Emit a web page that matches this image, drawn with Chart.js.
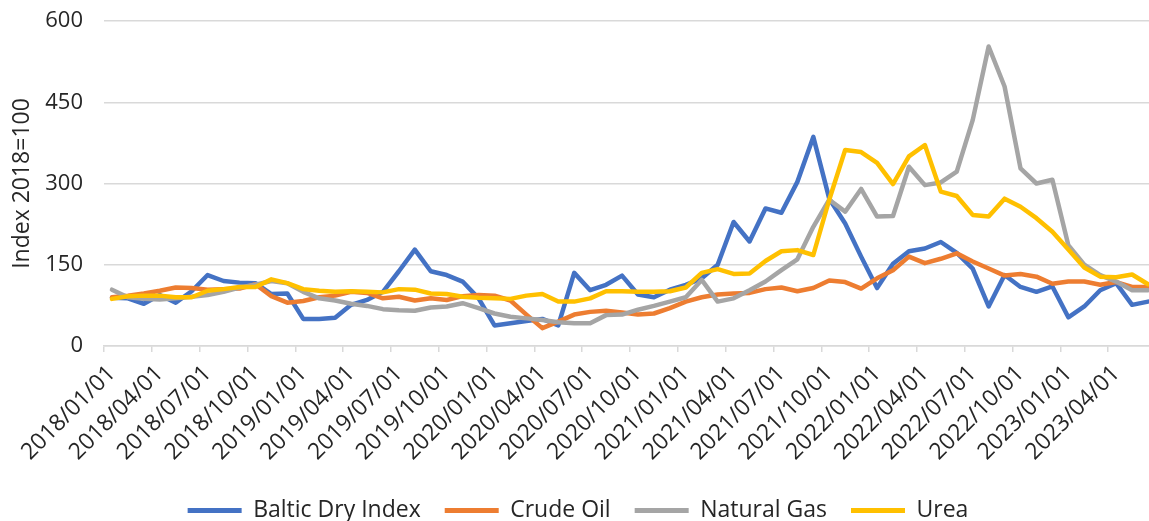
<!DOCTYPE html>
<html>
<head>
<meta charset="utf-8">
<script src="https://cdn.jsdelivr.net/npm/chart.js@4.4.1/dist/chart.umd.min.js"></script>
<style>
  html, body { margin: 0; padding: 0; background: #fff; overflow: hidden; }
  #wrap { width: 1156px; height: 521px; }
</style>
</head>
<body>
<div id="wrap"><canvas id="chart"></canvas></div>
<script>
// monthly categories, 2018/01 .. 2023/06
const months = [];
for (let y = 2018; y <= 2023; y++) {
  for (let m = 1; m <= 12; m++) {
    if (months.length < 66) months.push(y + '/' + String(m).padStart(2, '0') + '/01');
  }
}

const balticDry = [89, 88, 78, 94, 80, 101, 131, 120, 117, 116, 96, 97,
  50, 50, 52, 76, 85, 100, 138, 178, 138, 131, 119, 88,
  38, 42, 46, 50, 38, 135, 103, 113, 130, 95, 90, 104,
  113, 125, 150, 229, 193, 254, 246, 303, 386, 272, 226, 165,
  107, 152, 175, 180, 192, 172, 143, 73, 131, 109, 100, 110,
  53, 73, 103, 116, 76, 82];

const crudeOil = [90, 93, 97, 102, 108, 107, 104, 105, 106, 114, 92, 80,
  83, 90, 93, 100, 98, 88, 91, 84, 88, 85, 92, 94,
  93, 84, 58, 33, 45, 58, 63, 65, 62, 58, 60, 70,
  82, 90, 95, 97, 98, 105, 108, 101, 107, 121, 118, 106,
  125, 140, 165, 153, 161, 171, 156, 143, 130, 133, 128, 115,
  119, 119, 113, 118, 109, 109];

const naturalGas = [104, 90, 87, 86, 88, 91, 94, 100, 108, 113, 120, 116,
  100, 88, 84, 78, 74, 68, 66, 65, 71, 73, 79, 70,
  60, 54, 51, 48, 44, 42, 42, 57, 58, 67, 74, 82,
  90, 122, 82, 88, 103, 119, 140, 160, 220, 270, 248, 290,
  239, 240, 331, 297, 302, 322, 417, 553, 479, 328, 300, 307,
  186, 150, 131, 119, 103, 103];

const urea = [87, 92, 93, 93, 90, 90, 102, 105, 109, 109, 123, 116,
  105, 102, 100, 101, 100, 99, 105, 104, 97, 96, 91, 89,
  88, 87, 93, 96, 82, 82, 88, 101, 101, 100, 100, 101,
  108, 135, 142, 133, 134, 157, 175, 177, 168, 270, 362, 358,
  338, 299, 350, 371, 285, 277, 242, 239, 272, 257, 236, 211,
  178, 145, 128, 127, 132, 114];

const yTicks = [0, 150, 300, 450, 600];

const FONT = "'Open Sans', 'Noto Sans', sans-serif";
const TEXT = '#262626';
const GRID = '#d9d9d9';

function series(label, data, color, order) {
  return {
    label, data, order,
    borderColor: color, backgroundColor: color,
    borderWidth: 4.5, pointRadius: 0, tension: 0,
    borderJoinStyle: 'round', borderCapStyle: 'round'
  };
}

// keep the plot box fixed: no extra room asked for by overhanging labels
function noPad(s) {
  s.paddingTop = 0; s.paddingBottom = 0; s.paddingLeft = 0; s.paddingRight = 0;
}

new Chart(document.getElementById('chart'), {
  type: 'line',
  data: {
    labels: months,
    datasets: [
      series('Baltic Dry Index', balticDry, '#4472C4', 3),
      series('Crude Oil', crudeOil, '#ED7D31', 2),
      series('Natural Gas', naturalGas, '#A5A5A5', 1),
      series('Urea', urea, '#FFC000', 0)
    ]
  },
  options: {
    responsive: true,
    maintainAspectRatio: false,
    animation: false,
    devicePixelRatio: 1,
    layout: { padding: { top: 21, left: 0, right: 0, bottom: -11 } },
    plugins: {
      tooltip: { enabled: false },
      legend: {
        position: 'bottom',
        labels: {
          font: { family: FONT, size: 23 },
          color: TEXT,
          boxWidth: 54,
          boxHeight: 5,
          padding: 24,
          sort: (a, b) => a.datasetIndex - b.datasetIndex,
          generateLabels: chart => Chart.defaults.plugins.legend.labels.generateLabels(chart)
            .map(l => Object.assign(l, { lineWidth: 0, fillStyle: l.strokeStyle }))
        }
      }
    },
    scales: {
      x: {
        type: 'category',
        offset: true,
        afterFit: s => { s.height = 129; noPad(s); },
        border: { display: true, color: GRID, width: 1.5 },
        grid: {
          offset: true,
          drawOnChartArea: false,
          drawTicks: true,
          tickLength: 6,
          lineWidth: 1.5,
          color: ctx => (ctx.index % 3 === 0 ? GRID : 'rgba(0,0,0,0)')
        },
        ticks: {
          autoSkip: false,
          maxRotation: 45,
          minRotation: 45,
          padding: 8,
          font: { family: FONT, size: 23 },
          color: TEXT,
          callback: (v, i) => (i % 3 === 0 ? months[i] : '')
        }
      },
      y: {
        min: 0,
        max: 600,
        afterFit: s => { s.width = 104; noPad(s); },
        afterBuildTicks: s => { s.ticks = yTicks.map(v => ({ value: v })); },
        border: { display: false },
        grid: { color: GRID, lineWidth: 1.5, drawTicks: false },
        ticks: {
          padding: 21,
          font: { family: FONT, size: 22 },
          color: TEXT
        },
        title: {
          display: true,
          text: 'Index 2018=100',
          font: { family: FONT, size: 23 },
          color: TEXT,
          padding: { top: 9, bottom: 0 }
        }
      }
    }
  }
});
</script>
</body>
</html>
